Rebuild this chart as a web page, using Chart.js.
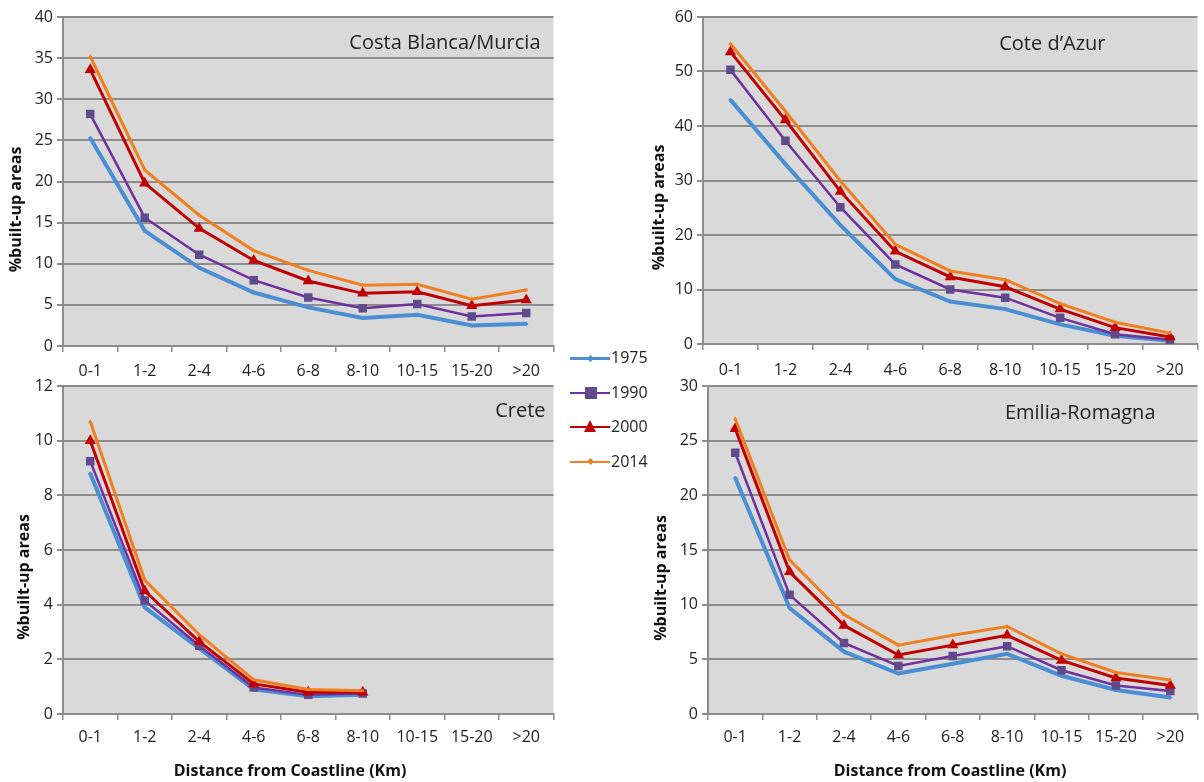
<!DOCTYPE html>
<html>
<head>
<meta charset="utf-8">
<script src="https://cdn.jsdelivr.net/npm/chart.js@4.4.1/dist/chart.umd.min.js"></script>
<style>
  html, body { margin: 0; padding: 0; background: #ffffff; }
  body { width: 1204px; height: 782px; position: relative; overflow: hidden; font-family: "Open Sans", "Noto Sans", sans-serif; }
  .box { position: absolute; }
  .legend { position: absolute; left: 566px; top: 346px; width: 100px; }
  .li { position: relative; height: 34.5px; }
  .li .ln { position: absolute; left: 4px; top: 11px; width: 40px; height: 3px; }
  .li .mk { position: absolute; }
  .li .tx { position: absolute; left: 45px; top: 0px; font-size: 16px; color: #222; line-height: 22px; }
</style>
</head>
<body>
<div class="box" style="left:0px;top:0px;width:560px;height:380px;"><canvas id="c1"></canvas></div>
<div class="box" style="left:640px;top:0px;width:564px;height:380px;"><canvas id="c2"></canvas></div>
<div class="box" style="left:0px;top:370px;width:560px;height:412px;"><canvas id="c3"></canvas></div>
<div class="box" style="left:640px;top:370px;width:564px;height:412px;"><canvas id="c4"></canvas></div>
<div class="legend" id="legend"></div>
<script>
// ---- data ----
const categories = ['0-1','1-2','2-4','4-6','6-8','8-10','10-15','15-20','>20'];
const years = ['1975','1990','2000','2014'];

const costa1975 = [25.3, 14.0, 9.5, 6.5, 4.7, 3.4, 3.8, 2.5, 2.7];
const costa1990 = [28.2, 15.6, 11.1, 8.0, 5.9, 4.6, 5.1, 3.6, 4.0];
const costa2000 = [33.6, 19.8, 14.3, 10.4, 7.9, 6.4, 6.6, 4.9, 5.6];
const costa2014 = [35.2, 21.4, 15.9, 11.6, 9.2, 7.4, 7.5, 5.7, 6.8];

const cote1975 = [44.8, 33.0, 21.8, 11.9, 7.8, 6.4, 3.6, 1.5, 0.6];
const cote1990 = [50.3, 37.3, 25.1, 14.6, 10.0, 8.5, 4.8, 1.8, 0.8];
const cote2000 = [53.6, 41.1, 28.0, 17.0, 12.3, 10.5, 6.4, 3.0, 1.3];
const cote2014 = [55.1, 42.7, 29.9, 18.3, 13.4, 11.8, 7.4, 4.0, 2.0];

const crete1975 = [8.8, 3.9, 2.4, 0.9, 0.65, 0.7, null, null, null];
const crete1990 = [9.25, 4.15, 2.5, 0.97, 0.7, 0.75, null, null, null];
const crete2000 = [10.0, 4.5, 2.65, 1.1, 0.8, 0.8, null, null, null];
const crete2014 = [10.7, 4.9, 2.9, 1.25, 0.9, 0.85, null, null, null];

const emilia1975 = [21.6, 9.7, 5.7, 3.7, 4.6, 5.5, 3.5, 2.2, 1.5];
const emilia1990 = [23.9, 10.9, 6.5, 4.4, 5.3, 6.2, 4.0, 2.6, 2.1];
const emilia2000 = [26.1, 13.0, 8.1, 5.4, 6.3, 7.2, 4.9, 3.3, 2.6];
const emilia2014 = [27.0, 14.1, 9.1, 6.3, 7.2, 8.0, 5.5, 3.8, 3.1];

const panelTitles = ['Costa Blanca/Murcia', "Cote d\u2019Azur", 'Crete', 'Emilia-Romagna'];
const yAxisMax = [40, 60, 12, 30];
const yAxisStep = [5, 10, 2, 5];
const yAxisTitle = '%built-up areas';
const xAxisTitle = 'Distance from Coastline (Km)';

// ---- styles ----
const seriesStyle = [
  { color: '#4a8fd4', fill: '#4a8fd4', width: 4, pointStyle: 'rectRot', radius: 2.2, order: 4 },
  { color: '#7030a0', fill: '#5f4b8b', width: 2.5, pointStyle: 'rect', radius: 6, order: 3 },
  { color: '#c00000', fill: '#c00000', width: 3, pointStyle: 'triangle', radius: 6.5, order: 2 },
  { color: '#f07f1f', fill: '#f07f1f', width: 3, pointStyle: 'triangle', radius: 2.5, order: 1 }
];
const FONT = '"Open Sans", "Noto Sans", sans-serif';

const bgPlugin = {
  id: 'plotBg',
  beforeDraw(chart) {
    const a = chart.chartArea, ctx = chart.ctx;
    ctx.save();
    ctx.fillStyle = '#d9d9d9';
    ctx.fillRect(a.left, a.top, a.right - a.left, a.bottom - a.top);
    ctx.restore();
  },
  afterDraw(chart) {
    const o = chart.options.plugins.panelTitle;
    const a = chart.chartArea, ctx = chart.ctx;
    ctx.save();
    ctx.font = '20px ' + FONT;
    ctx.fillStyle = '#222';
    ctx.textAlign = 'right';
    ctx.textBaseline = 'middle';
    ctx.fillText(o.text, a.right - o.rightGap, a.top + o.dy);
    // y axis title
    ctx.font = 'bold 16px ' + FONT;
    ctx.fillStyle = '#111';
    ctx.textAlign = 'center';
    ctx.save();
    ctx.translate(o.yTitleX, (a.top + a.bottom) / 2 + o.yTitleDy);
    ctx.rotate(-Math.PI / 2);
    ctx.fillText(yAxisTitle, 0, 0);
    ctx.restore();
    if (o.showXTitle) {
      ctx.fillText(xAxisTitle, o.xTitleX, o.xTitleY);
    }
    ctx.restore();
  }
};

function build(id, title, data, yMax, yStep, geo) {
  const datasets = data.map((d, i) => ({
    label: years[i],
    data: d,
    borderColor: seriesStyle[i].color,
    backgroundColor: seriesStyle[i].fill,
    borderWidth: seriesStyle[i].width,
    pointStyle: seriesStyle[i].pointStyle,
    pointRadius: seriesStyle[i].radius,
    pointBorderWidth: 0,
    pointBackgroundColor: seriesStyle[i].fill,
    pointBorderColor: seriesStyle[i].fill,
    tension: 0,
    spanGaps: false,
    order: seriesStyle[i].order
  }));
  return new Chart(document.getElementById(id), {
    type: 'line',
    data: { labels: categories, datasets },
    plugins: [bgPlugin],
    options: {
      responsive: true,
      maintainAspectRatio: false,
      animation: false,
      layout: { padding: { top: geo.padTop, right: geo.padRight, left: 0, bottom: 0 } },
      plugins: {
        legend: { display: false },
        tooltip: { enabled: false },
        panelTitle: Object.assign({ text: title }, geo)
      },
      scales: {
        x: {
          offset: true,
          grid: { offset: true, drawOnChartArea: false, drawTicks: true, tickLength: 6, color: '#8c8c8c', lineWidth: 1.5 },
          border: { display: true, color: '#8c8c8c', width: 2 },
          ticks: { font: { family: FONT, size: 16 }, color: '#222', padding: geo.xTickPad, maxRotation: 0, autoSkip: false },
          afterFit(s) { s.height = geo.xHeight; }
        },
        y: {
          min: 0, max: yMax,
          grid: { color: '#8c8c8c', lineWidth: 2, drawTicks: true, tickLength: 6 },
          border: { display: true, color: '#8c8c8c', width: 2 },
          ticks: { stepSize: yStep, font: { family: FONT, size: 16 }, color: '#222', padding: 4 },
          afterFit(s) { s.width = geo.yWidth; }
        }
      }
    }
  });
}

build('c1', panelTitles[0], [costa1975, costa1990, costa2000, costa2014], yAxisMax[0], yAxisStep[0],
  { padTop: 17, padRight: 2, xHeight: 34, yWidth: 63, rightGap: 13, dy: 26, showXTitle: false, xTickPad: 10,
    yTitleX: 16, yTitleDy: 28 });
build('c2', panelTitles[1], [cote1975, cote1990, cote2000, cote2014], yAxisMax[1], yAxisStep[1],
  { padTop: 17, padRight: 2, xHeight: 36, yWidth: 63, rightGap: 92, dy: 27, showXTitle: false, xTickPad: 11,
    yTitleX: 19, yTitleDy: 27 });
build('c3', panelTitles[2], [crete1975, crete1990, crete2000, crete2014], yAxisMax[2], yAxisStep[2],
  { padTop: 16, padRight: 2, xHeight: 68, yWidth: 63, rightGap: 8, dy: 25, showXTitle: true, xTickPad: 8,
    yTitleX: 24, yTitleDy: 27, xTitleX: 290, xTitleY: 401 });
build('c4', panelTitles[3], [emilia1975, emilia1990, emilia2000, emilia2014], yAxisMax[3], yAxisStep[3],
  { padTop: 16, padRight: 2, xHeight: 68, yWidth: 68, rightGap: 42, dy: 27, showXTitle: true, xTickPad: 8,
    yTitleX: 21, yTitleDy: 28, xTitleX: 310, xTitleY: 401 });

// ---- legend ----
const leg = document.getElementById('legend');
years.forEach((y, i) => {
  const st = seriesStyle[i];
  const row = document.createElement('div');
  row.className = 'li';
  const ln = document.createElement('div');
  ln.className = 'ln';
  ln.style.background = st.color;
  const h = Math.max(2, Math.round(st.width * 0.8));
  ln.style.height = h + 'px';
  ln.style.top = (12 - h / 2) + 'px';
  row.appendChild(ln);
  const mk = document.createElement('div');
  mk.className = 'mk';
  if (st.pointStyle === 'rect') {
    mk.style.cssText = 'left:19px;top:6px;width:12px;height:12px;background:' + st.fill;
  } else if (st.pointStyle === 'triangle' && st.radius > 4) {
    mk.style.cssText = 'left:18px;top:5px;width:0;height:0;border-left:6.5px solid transparent;border-right:6.5px solid transparent;border-bottom:12px solid ' + st.fill;
  } else {
    mk.style.cssText = 'left:22px;top:9.5px;width:5px;height:5px;background:' + st.fill + ';transform:rotate(45deg)';
  }
  row.appendChild(mk);
  const tx = document.createElement('div');
  tx.className = 'tx';
  tx.textContent = y;
  row.appendChild(tx);
  leg.appendChild(row);
});
</script>
</body>
</html>
